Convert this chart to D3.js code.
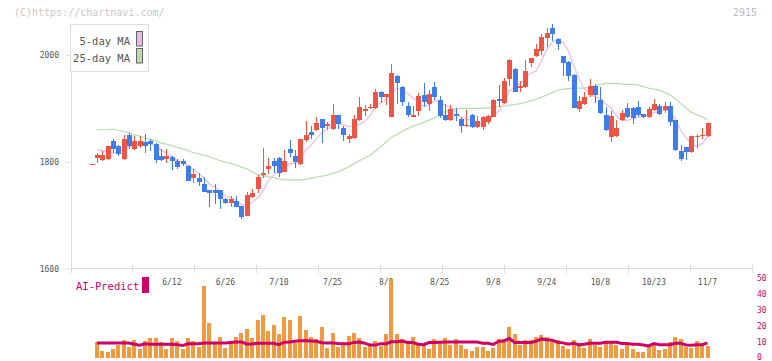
<!DOCTYPE html>
<html><head><meta charset="utf-8">
<script src="https://cdn.jsdelivr.net/npm/d3@7"></script>
<style>body{margin:0;background:#fff}svg{display:block}</style>
</head><body><svg id="c" width="772" height="361"></svg>
<script>
// ---- data (index 0 = first session shown, 5/22) ----
const openP = [1795,1807,1803,1805,1839,1829,1805,1851,1823,1829, 1837,1839,1834,1810,1805,1809,1801,1801,1792,1769, 1769,1759,1747,1747,1747,1731,1722,1726,1717,1699, 1734,1749,1775,1786,1801,1807,1781,1824,1811,1796, 1841,1856,1859,1880,1867,1861,1888,1863,1842,1844, 1878,1896,1900,1900,1931,1921,1884,1961,1940,1904, 1884,1895,1925,1908,1940,1916,1888,1878,1890,1880, 1867,1888,1865,1865,1874,1884,1917,1910,1955,1974, 1938,1940,1985,1998,2008,2032,2051,2030,1998,1987, 1963,1899,1908,1925,1942,1916,1888,1846,1848,1878, 1901,1901,1902,1889,1884,1897,1904,1897,1904,1878, 1820,1828,1818,1847,1849,1848];
const highP = [1796,1816,1820,1830,1842,1831,1851,1854,1848,1848, 1852,1843,1835,1824,1824,1810,1805,1805,1793,1786, 1779,1771,1748,1758,1748,1732,1735,1735,1718,1743, 1749,1775,1826,1807,1807,1809,1822,1841,1822,1843, 1876,1867,1884,1881,1874,1908,1888,1867,1852,1888, 1921,1906,1908,1936,1932,1927,1983,1962,1941,1912, 1904,1929,1948,1934,1949,1923,1908,1906,1900,1884, 1897,1889,1886,1885,1888,1917,1944,1956,1992,1975, 1952,1991,1995,2020,2039,2050,2058,2031,1999,1988, 1964,1923,1931,1955,1946,1940,1902,1895,1878,1897, 1910,1902,1914,1890,1902,1917,1908,1912,1912,1879, 1831,1828,1849,1852,1863,1873];
const lowP = [1794,1797,1801,1804,1816,1810,1803,1823,1822,1826, 1817,1820,1798,1802,1798,1784,1786,1792,1764,1760, 1754,1743,1715,1720,1711,1721,1715,1715,1693,1698, 1732,1741,1769,1777,1779,1771,1780,1809,1788,1794, 1837,1842,1858,1835,1859,1860,1861,1839,1835,1843, 1877,1886,1899,1899,1910,1906,1883,1908,1904,1884, 1883,1886,1902,1895,1916,1882,1876,1876,1876,1854, 1866,1864,1864,1859,1870,1883,1902,1909,1942,1930, 1931,1939,1977,1997,2000,2015,2026,2009,1961,1951, 1900,1893,1907,1921,1910,1890,1858,1837,1847,1877, 1882,1870,1884,1882,1882,1896,1888,1891,1867,1821, 1801,1803,1816,1826,1842,1847];
const closeP = [1795,1812,1812,1829,1824,1815,1842,1829,1839,1839, 1829,1834,1803,1803,1811,1801,1791,1796,1764,1777, 1762,1744,1742,1742,1730,1722,1730,1716,1696,1737, 1741,1771,1779,1792,1792,1779,1801,1816,1799,1842, 1850,1850,1872,1863,1871,1888,1871,1850,1848,1880, 1902,1898,1902,1931,1921,1926,1966,1947,1912,1888, 1887,1923,1912,1927,1921,1886,1878,1899,1886,1867, 1869,1865,1876,1884,1886,1916,1914,1951,1991,1931, 1942,1970,1994,2011,2034,2041,2039,2021,1985,1961, 1901,1914,1921,1942,1925,1891,1859,1886,1863,1891, 1884,1882,1888,1884,1899,1908,1889,1904,1874,1822, 1805,1818,1848,1848,1850,1872];

const ma5 = [null, 1823,1821,1819,1816,1818,1824,1828,1830,1833,1836, 1834,1829,1822,1816,1810,1802,1800,1793,1786,1778, 1769,1758,1753,1744,1736,1733,1728,1719,1720,1724, 1732,1745,1764,1775,1783,1789,1796,1797,1807,1822, 1831,1843,1855,1861,1869,1873,1869,1866,1867,1870, 1876,1886,1903,1911,1916,1929,1938,1934,1928,1920, 1911,1904,1907,1914,1914,1905,1902,1894,1883,1880, 1877,1873,1872,1876,1885,1895,1910,1932,1941,1946, 1957,1966,1970,1990,2010,2024,2029,2024,2009,1981, 1956,1936,1928,1921,1919,1908,1901,1885,1878,1877, 1881,1882,1886,1887,1892,1894,1897,1895,1879,1859, 1845,1833,1828,1834,1847];
const ma25 = [null, 1860,1860,1860,1861,1859,1857,1854,1850,1848,1844, 1842,1839,1835,1833,1830,1827,1824,1821,1817,1815, 1812,1810,1806,1802,1799,1797,1794,1790,1787,1781, 1776,1774,1772,1770,1768,1766,1766,1766,1766,1767, 1769,1771,1773,1775,1778,1781,1786,1790,1796,1802, 1807,1812,1820,1828,1837,1846,1851,1857,1862,1867, 1870,1874,1878,1882,1887,1894,1897,1899,1900,1900, 1900,1900,1900,1901,1902,1903,1904,1906,1907,1909, 1911,1914,1917,1921,1925,1930,1934,1936,1937,1938, 1938,1938,1940,1942,1945,1947,1947,1947,1946,1945, 1945,1944,1941,1938,1936,1934,1930,1925,1918,1909, 1900,1893,1888,1884,1879];
const volume = [null, 10,4.4,3.6,5.7,8.3,11.6,7.2,11.6,5.7,10.5, 12.4,12.4,9.9,5.7,12.4,10.8,5.7,12.4,10.5,6.8, 45.2,21.9,8.5,13.5,6.3,9.9,13.5,16,18,12.4, 23.7,26.8,16.8,20.6,14.9,25.6,23.7,9.2,26.2,17.4, 13.3,11.8,19.3,6.1,16,6.7,7.9,13.7,16,12.8, 6.7,8.3,10.5,7.6,14.9,49.6,14.9,11.8,10,13, 8.6,8.6,5.5,11.8,10,12.4,8,11.8,8,5.5, 4.2,6.7,6.7,4.2,6.1,11.8,11.8,19.3,14.9,8, 11.2,11.2,13,14.3,13,10,11.2,7.4,5.6,11.1, 8.6,6.1,11.8,7.9,6.7,9.9,10.5,7.9,5.5,7.9, 5.5,3.6,3.6,7.9,7.9,4.8,5.5,9.9,13,11.8, 6.7,6.1,10.5,7.4,7.4];
const aiPredict = [null, 9.4,9.4,9.4,9.4,9.4,9.4,9.4,8.6,8.0,8.9, 8.7,8.6,8.6,8.6,8.6,8.4,7.8,8.9,8.9,8.9, 9.4,9.4,9.4,9.4,9.4,9.7,10,10,8.8,8.8, 9.2,9.2,9.2,9.2,8.4,9.9,10.1,10.5,10.9,10.9, 10.7,10.5,9.6,9.5,9.5,9.1,9.0,8.9,9.8,10, 9.3,8.1,8.1,9.0,9.0,10.2,10.2,10.7,9.7,9.7, 8.7,8.4,9.7,9.7,9.9,10.1,10.1,10.1,10.1,10.1, 10.1,10.1,9.3,9.3,8.5,10.5,10.7,12.2,9.8,9.7, 9.7,9.7,10.5,12.0,11.5,11.2,9.8,9.5,8.6,9.3, 8.4,8.6,9.3,9.3,9.3,9.9,9.9,9.9,9.1,9.1, 8.6,8.6,8.2,7.6,9.1,8.4,8.4,8.4,9.3,9.3, 8.2,8.0,8.4,8.4,9.5];

const dateLabels = ["6/12","6/26","7/10","7/25","8/8","8/25","9/8","9/24","10/8","10/23","11/7"];
const dateLabelIdx = [15,25,35,45,55,65,75,85,95,105,115];
const priceTicks = [1600,1800,2000];
const volTicks = [0,10,20,30,40,50];
const legendNames = ["5-day MA","25-day MA"];
const legendColors = ["#eab8ea","#b8dcaa"];

// ---- drawing ----
const FONT = "'DejaVu Sans Mono', monospace";
const UP = "#f05442", DOWN = "#3f7cec", VOLC = "#f2983e", AIC = "#cc0066";
const svg = d3.select("#c");
const n = closeP.length;

const x = d3.scaleLinear().domain([0, n - 1]).range([91.5, 707.5]);
const y = d3.scaleLinear().domain([1600, 2000]).range([268.5, 55]);
const yv = d3.scaleLinear().domain([0, 50]).range([358, 278.4]);
const grid = d3.scaleLinear().domain([0, 11]).range([71, 752]);

// header
svg.append("text").attr("x", 14).attr("y", 16).attr("font-family", FONT).attr("font-size", 10)
  .attr("fill", "#c8c8c8").text("(C)https://chartnavi.com/");
svg.append("text").attr("x", 757).attr("y", 16).attr("text-anchor", "end").attr("font-family", FONT)
  .attr("font-size", 10).attr("fill", "#bbbbbb").text("2915");

// left axis (axis line extended up to the legend top)
const yAxisScale = y.copy().domain([1600, y.invert(24)]).range([y(1600), 24]);
const gy = svg.append("g").attr("transform", "translate(71,0)")
  .call(d3.axisLeft(yAxisScale).tickValues(priceTicks).tickSize(6).tickSizeOuter(0).tickPadding(6).tickFormat(d3.format("d")));
gy.select(".domain").attr("stroke", "#dddddd");
gy.selectAll(".tick line").attr("stroke", "#dddddd");
gy.selectAll("text").attr("font-family", FONT).attr("font-size", 8).attr("fill", "#555");

// bottom axis
const gx = svg.append("g").attr("transform", "translate(0,268.5)");
gx.append("line").attr("x1", grid(0)).attr("x2", grid(11)).attr("stroke", "#dddddd");
gx.selectAll("line.t").data(d3.range(12)).join("line").attr("class", "t")
  .attr("x1", d => grid(d)).attr("x2", d => grid(d)).attr("y1", -3.5).attr("y2", 4.5)
  .attr("stroke", "#dddddd").attr("shape-rendering", "crispEdges");

// date labels
svg.selectAll("text.dl").data(dateLabels).join("text").attr("class", "dl")
  .attr("x", (d, i) => x(dateLabelIdx[i])).attr("y", 284.5).attr("text-anchor", "middle")
  .attr("font-family", FONT).attr("font-size", 8).attr("fill", "#555").text(d => d);

// moving averages
const idx = d3.range(n);
const lineOf = arr => d3.line().defined(i => arr[i] != null).x(i => x(i)).y(i => y(arr[i]));
svg.append("path").attr("d", lineOf(ma25)(idx)).attr("fill", "none").attr("stroke", legendColors[1]).attr("stroke-width", 1.2);
svg.append("path").attr("d", lineOf(ma5)(idx)).attr("fill", "none").attr("stroke", legendColors[0]).attr("stroke-width", 1.2);

// candles
const cg = svg.append("g").attr("shape-rendering", "crispEdges");
const col = i => closeP[i] >= openP[i] ? UP : DOWN;
cg.selectAll("line.w").data(idx).join("line").attr("class", "w")
  .attr("x1", i => Math.round(x(i)) + 0.5).attr("x2", i => Math.round(x(i)) + 0.5)
  .attr("y1", i => y(highP[i])).attr("y2", i => y(lowP[i])).attr("stroke", col);
cg.selectAll("rect.b").data(idx).join("rect").attr("class", "b")
  .attr("x", i => Math.round(x(i)) - 2).attr("width", 5)
  .attr("y", i => y(Math.max(openP[i], closeP[i])))
  .attr("height", i => Math.max(1, Math.abs(y(openP[i]) - y(closeP[i]))))
  .attr("fill", col);

// legend
const lg = svg.append("g");
lg.append("rect").attr("x", 70.5).attr("y", 24.5).attr("width", 78).attr("height", 47)
  .attr("fill", "#fff").attr("stroke", "#dddddd");
legendNames.forEach((nm, i) => {
  lg.append("text").attr("x", 130).attr("y", 45 + i * 16.5).attr("text-anchor", "end")
    .attr("font-family", FONT).attr("font-size", 10.5).attr("fill", "#555").text(nm);
  lg.append("rect").attr("x", 136.5).attr("y", 31.5 + i * 17).attr("width", 6).attr("height", 14.5)
    .attr("fill", legendColors[i]).attr("stroke", "#666");
});

// volume axis labels
svg.selectAll("text.vl").data(volTicks).join("text").attr("class", "vl")
  .attr("x", 757).attr("y", d => Math.min(yv(d) + 3, 360)).attr("font-family", FONT).attr("font-size", 8)
  .attr("fill", AIC).text(d => d);

// AI-Predict label
svg.append("text").attr("x", 76).attr("y", 290).attr("font-family", FONT).attr("font-size", 10.5)
  .attr("fill", AIC).text("AI-Predict");
svg.append("rect").attr("x", 142).attr("y", 277).attr("width", 7).attr("height", 16).attr("fill", AIC);

// volume bars
const vIdx = idx.filter(i => volume[i] != null);
svg.append("g").attr("shape-rendering", "crispEdges").selectAll("rect").data(vIdx).join("rect")
  .attr("x", i => Math.round(x(i)) - 2).attr("width", 4)
  .attr("y", i => yv(volume[i])).attr("height", i => yv(0) - yv(volume[i]))
  .attr("fill", VOLC);

// AI line
svg.append("path").attr("d", d3.line().defined(i => aiPredict[i] != null).x(i => x(i)).y(i => yv(aiPredict[i]))(idx))
  .attr("fill", "none").attr("stroke", AIC).attr("stroke-width", 3);
</script></body></html>
